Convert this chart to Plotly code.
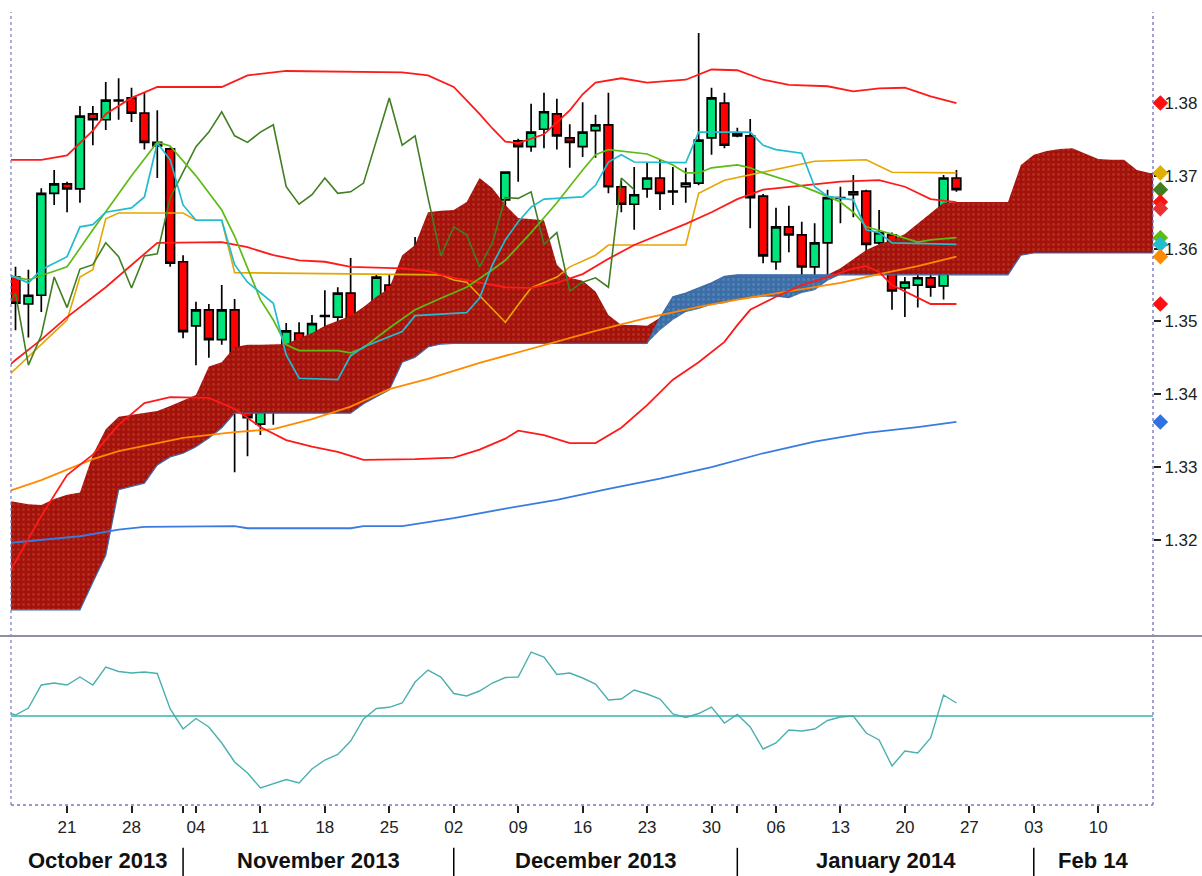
import numpy as np
import pandas as pd
import plotly.graph_objects as go

# ---------------- data ----------------
start_date = "2013-10-14"          # trading-day index 0
n_days = 91
candle_idx = list(range(1, 75))
open_ = [1.3561, 1.3524, 1.3536, 1.3676, 1.3689, 1.3682, 1.3785, 1.3777, 1.3804, 1.3807,
         1.3786, 1.3746, 1.3737, 1.3582, 1.3494, 1.3516, 1.3475, 1.3516, 1.3421, 1.3359,
         1.3409, 1.3436, 1.3484, 1.3461, 1.3508, 1.3506, 1.3539, 1.3443, 1.3481, 1.3550,
         1.3519, 1.3573, 1.3582, 1.3608, 1.3597, 1.3542, 1.3589, 1.3594, 1.3667, 1.3748,
         1.3740, 1.3764, 1.3785, 1.3752, 1.3740, 1.3762, 1.3770, 1.3685, 1.3661, 1.3682,
         1.3697, 1.3679, 1.3685, 1.3690, 1.3752, 1.3800, 1.3759, 1.3755, 1.3672, 1.3582,
         1.3630, 1.3619, 1.3575, 1.3608, 1.3670, 1.3674, 1.3679, 1.3608, 1.3619, 1.3546,
         1.3550, 1.3560, 1.3549, 1.3697]
high = [1.3575, 1.3571, 1.3683, 1.3708, 1.3692, 1.3796, 1.3796, 1.3829, 1.3834, 1.3821,
        1.3815, 1.3790, 1.3739, 1.3591, 1.3527, 1.3524, 1.3550, 1.3531, 1.3440, 1.3417,
        1.3458, 1.3498, 1.3499, 1.3509, 1.3543, 1.3547, 1.3587, 1.3491, 1.3564, 1.3564,
        1.3578, 1.3616, 1.3623, 1.3626, 1.3619, 1.3616, 1.3605, 1.3676, 1.3706, 1.3751,
        1.3799, 1.3814, 1.3806, 1.3771, 1.3801, 1.3784, 1.3814, 1.3694, 1.3712, 1.3718,
        1.3722, 1.3712, 1.3711, 1.3896, 1.3821, 1.3814, 1.3766, 1.3778, 1.3675, 1.3656,
        1.3659, 1.3637, 1.3635, 1.3681, 1.3685, 1.3701, 1.3681, 1.3653, 1.3622, 1.3561,
        1.3568, 1.3587, 1.3701, 1.3708]
low = [1.3488, 1.3478, 1.3513, 1.3660, 1.3650, 1.3663, 1.3742, 1.3763, 1.3777, 1.3774,
       1.3736, 1.3697, 1.3575, 1.3477, 1.3440, 1.3450, 1.3468, 1.3293, 1.3315, 1.3344,
       1.3358, 1.3389, 1.3417, 1.3431, 1.3475, 1.3486, 1.3416, 1.3396, 1.3464, 1.3499,
       1.3513, 1.3557, 1.3567, 1.3580, 1.3527, 1.3523, 1.3530, 1.3543, 1.3622, 1.3692,
       1.3733, 1.3738, 1.3736, 1.3711, 1.3726, 1.3725, 1.3676, 1.3650, 1.3626, 1.3670,
       1.3653, 1.3660, 1.3663, 1.3687, 1.3729, 1.3738, 1.3753, 1.3628, 1.3580, 1.3571,
       1.3595, 1.3550, 1.3547, 1.3561, 1.3635, 1.3643, 1.3580, 1.3584, 1.3516, 1.3506,
       1.3519, 1.3534, 1.3530, 1.3678]
close = [1.3525, 1.3536, 1.3676, 1.3689, 1.3682, 1.3782, 1.3777, 1.3804, 1.3803, 1.3786,
         1.3746, 1.3741, 1.3580, 1.3486, 1.3516, 1.3475, 1.3516, 1.3421, 1.3368, 1.3405,
         1.3436, 1.3487, 1.3461, 1.3497, 1.3507, 1.3539, 1.3440, 1.3481, 1.3561, 1.3519,
         1.3572, 1.3578, 1.3608, 1.3589, 1.3546, 1.3590, 1.3593, 1.3670, 1.3705, 1.3740,
         1.3760, 1.3788, 1.3755, 1.3746, 1.3760, 1.3770, 1.3685, 1.3661, 1.3674, 1.3697,
         1.3676, 1.3678, 1.3690, 1.3749, 1.3807, 1.3742, 1.3755, 1.3670, 1.3590, 1.3630,
         1.3619, 1.3575, 1.3608, 1.3670, 1.3669, 1.3678, 1.3606, 1.3622, 1.3542, 1.3554,
         1.3560, 1.3547, 1.3697, 1.3681]
chikou_shift = 25

# Ichimoku cloud spans, index 0..90
span_a = [1.3255, 1.3252, 1.3249, 1.3248, 1.3256, 1.3262, 1.3265, 1.3317, 1.3352, 1.3369,
          1.3372, 1.3374, 1.3377, 1.3384, 1.3392, 1.3399, 1.3438, 1.3444, 1.3465, 1.3468,
          1.3468, 1.3468, 1.3469, 1.3477, 1.3484, 1.3494, 1.3501, 1.3508, 1.3520, 1.3534,
          1.3546, 1.3591, 1.3605, 1.3650, 1.3652, 1.3653, 1.3664, 1.3697, 1.3683, 1.3660,
          1.3642, 1.3641, 1.3639, 1.3578, 1.3560, 1.3556, 1.3541, 1.3509, 1.3495, 1.3495,
          1.3494, 1.3488, 1.3502, 1.3513, 1.3517, 1.3523, 1.3525, 1.3530, 1.3532, 1.3534,
          1.3534, 1.3532, 1.3539, 1.3543, 1.3556, 1.3573, 1.3586, 1.3598, 1.3606, 1.3612,
          1.3620, 1.3634, 1.3648, 1.3663, 1.3664, 1.3664, 1.3664, 1.3664, 1.3664, 1.3715,
          1.3729, 1.3734, 1.3737, 1.3738, 1.3730, 1.3723, 1.3722, 1.3722, 1.3708, 1.3704, 1.3704]
span_b = [1.3104, 1.3104, 1.3104, 1.3104, 1.3104, 1.3104, 1.3104, 1.3142, 1.3179, 1.3269,
          1.3273, 1.3278, 1.3303, 1.3314, 1.3319, 1.3328, 1.3340, 1.3354, 1.3374, 1.3374,
          1.3374, 1.3374, 1.3374, 1.3374, 1.3374, 1.3374, 1.3374, 1.3374, 1.3387, 1.3396,
          1.3406, 1.3444, 1.3451, 1.3465, 1.3469, 1.3470, 1.3470, 1.3470, 1.3470, 1.3470,
          1.3470, 1.3470, 1.3470, 1.3470, 1.3470, 1.3470, 1.3470, 1.3470, 1.3470, 1.3470,
          1.3470, 1.3505, 1.3534, 1.3539, 1.3546, 1.3553, 1.3562, 1.3564, 1.3564, 1.3564,
          1.3564, 1.3564, 1.3564, 1.3564, 1.3564, 1.3564, 1.3564, 1.3564, 1.3564, 1.3564,
          1.3564, 1.3564, 1.3564, 1.3564, 1.3564, 1.3564, 1.3564, 1.3564, 1.3564, 1.3591,
          1.3594, 1.3594, 1.3594, 1.3594, 1.3594, 1.3594, 1.3594, 1.3594, 1.3594, 1.3594, 1.3594]

kijun_idx = [0, 1, 3, 5, 6, 7, 8, 9, 14, 15, 17, 18, 34, 35, 36, 37, 39, 40, 41, 43, 44, 46,
             47, 53, 54, 56, 61, 63, 67, 69, 74]
kijun_val = [1.3418, 1.3435, 1.3468, 1.3502, 1.3561, 1.3571, 1.3641, 1.3649, 1.3649, 1.3639,
             1.3639, 1.3567, 1.3564, 1.3557, 1.3554, 1.3536, 1.3499, 1.3523, 1.3546, 1.3561,
             1.3575, 1.3591, 1.3605, 1.3605, 1.3676, 1.3694, 1.3712, 1.3720, 1.3722, 1.3705, 1.3704]
tenkan_idx = [0, 1, 2, 3, 5, 6, 7, 8, 10, 11, 12, 13, 14, 15, 17, 18, 19, 21, 22, 23, 26, 27,
              28, 31, 32, 36, 37, 38, 39, 40, 41, 42, 45, 46, 47, 48, 49, 53, 54, 58, 59, 60,
              62, 63, 64, 66, 67, 68, 69, 74]
tenkan_val = [1.3568, 1.3561, 1.3553, 1.3571, 1.3589, 1.3630, 1.3633, 1.3650, 1.3656, 1.3671,
              1.3745, 1.3722, 1.3660, 1.3639, 1.3639, 1.3578, 1.3554, 1.3525, 1.3454, 1.3422,
              1.3420, 1.3453, 1.3465, 1.3486, 1.3508, 1.3512, 1.3532, 1.3578, 1.3612, 1.3637,
              1.3657, 1.3668, 1.3671, 1.3687, 1.3719, 1.3729, 1.3719, 1.3718, 1.3760, 1.3760,
              1.3742, 1.3736, 1.3731, 1.3685, 1.3672, 1.3667, 1.3626, 1.3622, 1.3608, 1.3606]
ma_green_idx = [0, 1, 2, 5, 7, 10, 12, 13, 15, 17, 18, 19, 20, 21, 22, 23, 26, 27, 28, 30, 32,
                34, 36, 38, 39, 41, 43, 45, 46, 47, 50, 52, 53, 54, 55, 57, 58, 59, 61, 63, 65,
                66, 67, 69, 71, 72, 74]
ma_green_val = [1.3562, 1.3561, 1.3557, 1.3575, 1.3626, 1.3700, 1.3746, 1.3741, 1.3700, 1.3653,
                1.3617, 1.3573, 1.3530, 1.3502, 1.3468, 1.3460, 1.3460, 1.3457, 1.3464, 1.3491,
                1.3516, 1.3532, 1.3547, 1.3571, 1.3584, 1.3622, 1.3663, 1.3708, 1.3729, 1.3736,
                1.3730, 1.3715, 1.3704, 1.3704, 1.3711, 1.3715, 1.3711, 1.3704, 1.3693, 1.3679,
                1.3664, 1.3650, 1.3630, 1.3620, 1.3609, 1.3612, 1.3615]
ma_orange_idx = [0, 1, 3, 5, 7, 9, 11, 14, 18, 21, 24, 27, 30, 33, 37, 42, 46, 50, 54, 57, 61,
                 65, 68, 71, 74]
ma_orange_val = [1.3265, 1.3270, 1.3282, 1.3296, 1.3311, 1.3322, 1.3329, 1.3340, 1.3348, 1.3352,
                 1.3366, 1.3383, 1.3407, 1.3421, 1.3443, 1.3468, 1.3487, 1.3505, 1.3520, 1.3530,
                 1.3542, 1.3553, 1.3565, 1.3576, 1.3589]
ma_blue_idx = [0, 3, 6, 9, 11, 18, 19, 27, 28, 31, 35, 39, 43, 47, 51, 55, 59, 63, 67, 71, 74]
ma_blue_val = [1.3195, 1.3200, 1.3205, 1.3214, 1.3218, 1.3219, 1.3216, 1.3216, 1.3219, 1.3219,
               1.3230, 1.3243, 1.3255, 1.3270, 1.3284, 1.3300, 1.3319, 1.3335, 1.3347, 1.3355, 1.3362]
bb_up_idx = [0, 3, 5, 7, 8, 10, 12, 17, 19, 22, 31, 33, 35, 36, 37, 38, 39, 40, 42, 44, 45, 46,
             48, 50, 53, 55, 57, 59, 61, 64, 66, 68, 70, 72, 74]
bb_up_val = [1.3722, 1.3722, 1.3728, 1.3762, 1.3785, 1.3807, 1.3822, 1.3822, 1.3838, 1.3844,
             1.3842, 1.3838, 1.3822, 1.3804, 1.3785, 1.3765, 1.3747, 1.3745, 1.3757, 1.3790,
             1.3812, 1.3828, 1.3834, 1.3828, 1.3832, 1.3846, 1.3845, 1.3832, 1.3825, 1.3823,
             1.3816, 1.3820, 1.3821, 1.3809, 1.3800]
bb_mid_idx = [0, 1, 3, 5, 8, 10, 12, 17, 19, 21, 23, 25, 27, 31, 33, 35, 37, 39, 41, 43, 45,
              47, 49, 51, 53, 55, 57, 59, 62, 65, 68, 70, 72, 74]
bb_mid_val = [1.3432, 1.3447, 1.3475, 1.3506, 1.3547, 1.3578, 1.3608, 1.3609, 1.3602, 1.3591,
              1.3584, 1.3582, 1.3575, 1.3573, 1.3569, 1.3560, 1.3553, 1.3547, 1.3546, 1.3553,
              1.3565, 1.3586, 1.3605, 1.3619, 1.3634, 1.3650, 1.3668, 1.3681, 1.3686, 1.3692,
              1.3694, 1.3685, 1.3668, 1.3664]
bb_lo_idx = [0, 1, 3, 5, 7, 9, 11, 13, 16, 18, 20, 22, 24, 26, 28, 32, 35, 37, 39, 40, 42, 44,
             46, 48, 50, 52, 54, 56, 57, 58, 60, 62, 64, 66, 67, 68, 69, 70, 72, 74]
bb_lo_val = [1.3140, 1.3170, 1.3233, 1.3289, 1.3317, 1.3358, 1.3388, 1.3396, 1.3395, 1.3380,
             1.3355, 1.3337, 1.3328, 1.3321, 1.3310, 1.3311, 1.3313, 1.3324, 1.3339, 1.3350,
             1.3344, 1.3333, 1.3333, 1.3354, 1.3385, 1.3420, 1.3444, 1.3472, 1.3495, 1.3516,
             1.3534, 1.3550, 1.3561, 1.3573, 1.3576, 1.3568, 1.3550, 1.3541, 1.3524, 1.3524]
extra_red_marker = 1.3655

# lower-panel oscillator, index 0..74
osc = [0.5, 0.1, 0.8, 3.1, 3.3, 3.1, 3.9, 3.1, 4.9, 4.45,
       4.3, 4.4, 4.25, 0.7, -1.3, -0.25, -1.1, -2.7, -4.6, -5.7,
       -7.2, -6.8, -6.35, -6.7, -5.3, -4.4, -3.85, -2.5, -0.3, 0.75,
       0.87, 1.3, 3.4, 4.6, 3.9, 2.25, 2.0, 2.5, 3.3, 3.85,
       3.9, 6.4, 5.9, 4.15, 4.3, 3.8, 3.2, 1.6, 1.7, 2.6,
       2.2, 1.7, 0.2, -0.15, 0.25, 0.9, -0.7, 0.15, -1.1, -3.3,
       -2.7, -1.4, -1.5, -1.3, -0.45, -0.1, 0.0, -1.7, -2.4, -5.0,
       -3.5, -3.7, -2.2, 2.1, 1.3]

price_ticks = [1.32, 1.33, 1.34, 1.35, 1.36, 1.37, 1.38]
month_labels = ["October 2013", "November 2013", "December 2013", "January 2014", "Feb 14"]

# ---------------- layout constants ----------------
W, H = 1202, 876
ML, MR, MT, MB = 11, 0, 12, 71
PLOT_W = W - ML - MR
XD = (1153 - ML) / PLOT_W            # right end of the chart area (paper)
XMIN, XMAX = 0.65, 89.25
Y_MAIN = (1.3068, 1.3925)
Y_OSC = (-8.9, 8.0)
SPLIT = 0.2131
FONT = "Liberation Sans Narrow, Arial Narrow, Liberation Sans, Arial, sans-serif"

dates = pd.bdate_range(start_date, periods=n_days)
mondays = [i for i in range(1, n_days) if dates[i].weekday() == 0]
month_starts = [i for i in range(1, n_days) if dates[i].month != dates[i - 1].month]
tickvals = sorted(set(mondays) | set(month_starts))
ticktext = [dates[i].strftime("%d") if dates[i].weekday() == 0 else "" for i in tickvals]

fig = go.Figure()

# cloud
cloud_x = list(range(len(span_a)))
A = np.array(span_a)
B = np.array(span_b)
upper = np.maximum(A, B)
lower = np.minimum(A, B)
fig.add_trace(go.Scatter(x=cloud_x, y=B, mode="lines", line=dict(width=0), hoverinfo="skip"))
fig.add_trace(go.Scatter(x=cloud_x, y=upper, mode="lines", line=dict(width=0), fill="tonexty",
                         fillcolor="#A3120E",
                         fillpattern=dict(shape=".", bgcolor="#A3120E", fgcolor="#C8501E",
                                          size=5, solidity=0.25),
                         hoverinfo="skip"))
fig.add_trace(go.Scatter(x=cloud_x, y=B, mode="lines", line=dict(width=0), hoverinfo="skip"))
fig.add_trace(go.Scatter(x=cloud_x, y=lower, mode="lines", line=dict(width=0), fill="tonexty",
                         fillcolor="#3B6DA6",
                         fillpattern=dict(shape=".", bgcolor="#3B6DA6", fgcolor="#6E98C8",
                                          size=5, solidity=0.25),
                         hoverinfo="skip"))
fig.add_trace(go.Scatter(x=cloud_x, y=B, mode="lines", line=dict(width=1.2, color="#3E6AA8"),
                         hoverinfo="skip"))

# candles
fig.add_trace(go.Candlestick(
    x=candle_idx, open=open_, high=high, low=low, close=close,
    increasing=dict(line=dict(color="black", width=1.7), fillcolor="#00E47C"),
    decreasing=dict(line=dict(color="black", width=1.7), fillcolor="#FF0000"),
    whiskerwidth=0, hoverinfo="skip"))


def add_line(xs, ys, color, width=1.6):
    fig.add_trace(go.Scatter(x=xs, y=ys, mode="lines", line=dict(color=color, width=width),
                             hoverinfo="skip"))


add_line(ma_blue_idx, ma_blue_val, "#3A7BE0", 1.8)
add_line(ma_orange_idx, ma_orange_val, "#FF8A00", 1.8)
add_line(kijun_idx, kijun_val, "#E6A600", 1.6)
add_line(bb_up_idx, bb_up_val, "#FF1A1A", 1.8)
add_line(bb_mid_idx, bb_mid_val, "#FF1A1A", 1.8)
add_line(bb_lo_idx, bb_lo_val, "#FF1A1A", 1.8)
chik_x = [i - chikou_shift for i in candle_idx if i - chikou_shift >= 0]
chik_y = [c for i, c in zip(candle_idx, close) if i - chikou_shift >= 0]
add_line(chik_x, chik_y, "#3F7F22", 1.6)
add_line(ma_green_idx, ma_green_val, "#5DBB12", 1.7)
add_line(tenkan_idx, tenkan_val, "#20BCD0", 1.7)

# last-value diamonds beside the price axis (own x-axis strip right of the chart)
marker_vals = [bb_up_val[-1], kijun_val[-1], chik_y[-1], bb_mid_val[-1], extra_red_marker,
               ma_green_val[-1], tenkan_val[-1], ma_orange_val[-1], bb_lo_val[-1], ma_blue_val[-1]]
marker_cols = ["#FF1010", "#E0B000", "#3F7F22", "#FF1010", "#E83030",
               "#5DBB12", "#20BCD0", "#FF8A00", "#FF1010", "#2F73E0"]
fig.add_trace(go.Scatter(x=[0.15] * len(marker_vals), y=marker_vals, mode="markers",
                         xaxis="x2", yaxis="y",
                         marker=dict(symbol="diamond", size=12, color=marker_cols),
                         hoverinfo="skip"))

# oscillator
fig.add_trace(go.Scatter(x=list(range(len(osc))), y=osc, mode="lines", yaxis="y2",
                         line=dict(color="#4AB0AE", width=1.4), hoverinfo="skip"))

# ---------------- shapes & annotations ----------------
border = "#7A7AC4"
shapes = [
    dict(type="line", xref="paper", yref="paper", x0=0, x1=0, y0=0, y1=1,
         line=dict(color=border, width=1.2, dash="dot")),
    dict(type="line", xref="paper", yref="paper", x0=XD, x1=XD, y0=0, y1=1,
         line=dict(color=border, width=1.4, dash="dot")),
    dict(type="line", xref="paper", yref="paper", x0=0, x1=XD, y0=0, y1=0,
         line=dict(color=border, width=1.4, dash="dot")),
    dict(type="line", xref="paper", yref="paper", x0=-ML / PLOT_W, x1=1, y0=SPLIT, y1=SPLIT,
         line=dict(color="#8E8EA6", width=2)),
    dict(type="line", xref="paper", yref="y2", x0=0, x1=XD, y0=0, y1=0,
         line=dict(color="#3AAFAF", width=1.6)),
]
for m in month_starts:
    px = XD * (m - XMIN) / (XMAX - XMIN)
    shapes.append(dict(type="line", xref="paper", yref="paper", x0=px, x1=px,
                       y0=-0.054, y1=-0.092, line=dict(color="black", width=1.5)))

bounds = [XMIN] + month_starts + [XMAX]
annotations = []
for k, lab in enumerate(month_labels):
    cx = (bounds[k] + bounds[k + 1]) / 2
    annotations.append(dict(x=cx, xref="x", y=-0.0705, yref="paper", text="<b>%s</b>" % lab,
                            showarrow=False, xanchor="center", yanchor="middle",
                            font=dict(family=FONT, size=22, color="#111")))

fig.update_layout(
    width=W, height=H,
    margin=dict(l=ML, r=MR, t=MT, b=MB, autoexpand=False),
    paper_bgcolor="white", plot_bgcolor="white",
    showlegend=False,
    boxgap=0.25, boxgroupgap=0.1,
    xaxis=dict(domain=[0, XD], range=[XMIN, XMAX], anchor="y2", showgrid=False,
               zeroline=False, showline=False, tickvals=tickvals, ticktext=ticktext,
               ticks="outside", ticklen=7, tickwidth=1.5, tickcolor="#222",
               tickfont=dict(family=FONT, size=17, color="#222"),
               rangeslider=dict(visible=False), automargin=False),
    xaxis2=dict(domain=[XD, 1], range=[0, 1], anchor="y", visible=False, fixedrange=True),
    yaxis=dict(domain=[SPLIT, 1], range=list(Y_MAIN), side="right", anchor="x",
               showgrid=False, zeroline=False, showline=False,
               tickvals=price_ticks, ticktext=["%.2f" % v for v in price_ticks],
               ticks="outside", ticklen=7, tickwidth=1.5, tickcolor="#222",
               tickfont=dict(family=FONT, size=17, color="#222"), automargin=False),
    yaxis2=dict(domain=[0, SPLIT], range=list(Y_OSC), anchor="x", side="right",
                showgrid=False, zeroline=False, showline=False, showticklabels=False,
                ticks="", automargin=False),
    shapes=shapes,
    annotations=annotations,
)

fig.write_html("out.html")
